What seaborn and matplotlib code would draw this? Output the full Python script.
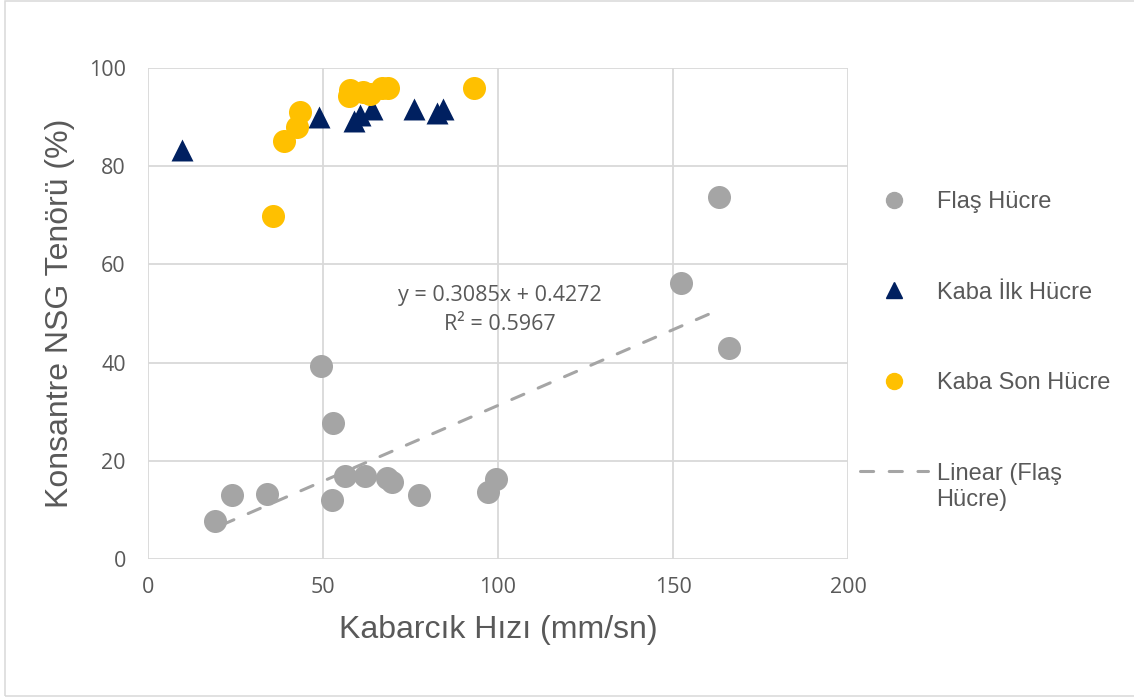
import numpy as np
import pandas as pd
import matplotlib
matplotlib.use("Agg")
import matplotlib.pyplot as plt
import seaborn as sns
from matplotlib.lines import Line2D

# Flaş Hücre
flas_x = [19.1, 24.0, 34.0, 49.4, 52.9, 52.6, 56.3, 62.0, 68.2, 69.7, 77.4, 97.1, 99.4, 152.3, 163.1, 166.0]
flas_y = [7.7, 13.0, 13.2, 39.3, 27.7, 12.0, 16.9, 16.9, 16.5, 15.7, 13.0, 13.6, 16.3, 56.2, 73.7, 43.0]

# Kaba İlk Hücre
ilk_x = [9.8, 49.0, 59.0, 60.6, 64.1, 76.1, 82.5, 84.4]
ilk_y = [83.2, 90.1, 89.2, 90.4, 91.6, 91.6, 90.9, 91.6]

# Kaba Son Hücre
son_x = [35.8, 38.9, 42.7, 43.4, 57.3, 57.8, 61.5, 63.5, 67.0, 68.5, 93.2]
son_y = [69.9, 85.1, 88.0, 91.1, 94.3, 95.6, 95.2, 94.8, 96.0, 96.0, 96.0]

# Excel trendline for Flaş Hücre
slope, intercept = 0.3085, 0.4272
eq_text = "y = 0.3085x + 0.4272\nR² = 0.5967"

x_ticks = [0, 50, 100, 150, 200]
y_ticks = [0, 20, 40, 60, 80, 100]

GRAY = "#A5A5A5"
NAVY = "#002060"
GOLD = "#FFC000"
TXT = "#595959"
GRID = "#D9D9D9"

flas = pd.DataFrame({"x": flas_x, "y": flas_y})
ilk = pd.DataFrame({"x": ilk_x, "y": ilk_y})
son = pd.DataFrame({"x": son_x, "y": son_y})

sns.set_style("white")
plt.rcParams["font.family"] = ["Liberation Sans", "DejaVu Sans"]

fig = plt.figure(figsize=(11.34, 7.0), dpi=100)
ax = fig.add_axes([0.1305, 0.2014, 0.6173, 0.7015])

sns.scatterplot(data=flas, x="x", y="y", color=GRAY, marker="o", s=275, linewidth=0, ax=ax, zorder=3)
sns.scatterplot(data=ilk, x="x", y="y", color=NAVY, marker="^", s=250, linewidth=0, ax=ax, zorder=3)
sns.scatterplot(data=son, x="x", y="y", color=GOLD, marker="o", s=275, linewidth=0, ax=ax, zorder=3)

# trendline over the data range
tx = np.array([min(flas_x) + 2, max(flas_x) - 3.5])
sns.lineplot(x=tx, y=slope * tx + intercept, ax=ax, color=GRAY, lw=2.2, zorder=2)
ax.lines[-1].set_dashes([4.3, 5.1])
ax.lines[-1].set_dash_capstyle("round")

ax.text(100.6, 50.7, eq_text, ha="center", va="center", fontsize=15.5,
        color=TXT, family=["Open Sans", "DejaVu Sans"], linespacing=1.5)

ax.set_xlim(0, 200)
ax.set_ylim(0, 100)
ax.set_xticks(x_ticks)
ax.set_yticks(y_ticks)
ax.grid(True, color=GRID, lw=1.3)
ax.set_axisbelow(True)
for s in ax.spines.values():
    s.set_visible(False)
ax.tick_params(axis="y", length=0, labelsize=15.5, labelcolor=TXT, pad=16)
ax.tick_params(axis="x", length=0, labelsize=15.5, labelcolor=TXT, pad=13)
for lab in ax.get_xticklabels() + ax.get_yticklabels():
    lab.set_family(["Open Sans", "DejaVu Sans"])

ax.set_xlabel("Kabarcık Hızı (mm/sn)", fontsize=23, color=TXT, labelpad=12)
ax.set_ylabel("Konsantre NSG Tenörü (%)", fontsize=23, color=TXT, labelpad=10)

handles = [
    Line2D([], [], marker="o", color=GRAY, ls="none", markersize=11.5),
    Line2D([], [], marker="^", color=NAVY, ls="none", markersize=11.5),
    Line2D([], [], marker="o", color=GOLD, ls="none", markersize=11.5),
    Line2D([], [], color=GRAY, lw=2.2, dashes=[4.3, 5.1], dash_capstyle="round"),
]
labels = ["Flaş Hücre", "Kaba İlk Hücre", "Kaba Son Hücre", "Linear (Flaş"]
leg = fig.legend(handles, labels, loc="upper left", bbox_to_anchor=(0.7584, 0.727),
                 frameon=False, fontsize=17, labelspacing=2.9, handlelength=2.9,
                 handletextpad=0.34, borderpad=0, borderaxespad=0)
for t in leg.get_texts():
    t.set_color(TXT)

fig.patches.append(plt.Rectangle((4.5 / 1134, 4 / 700), 1.05, 1 - 4.5 / 700,
                                 transform=fig.transFigure, fill=False,
                                 edgecolor=GRID, lw=1.1, clip_on=False))

# second line of the trendline legend label sits under the first
fig.canvas.draw()
ax.annotate("Hücre)", xy=(0, 0), xycoords=leg.get_texts()[3], xytext=(0, -3.5),
            textcoords="offset points", ha="left", va="top", fontsize=17,
            color=TXT, annotation_clip=False)

fig.savefig("out.png", dpi=100)
